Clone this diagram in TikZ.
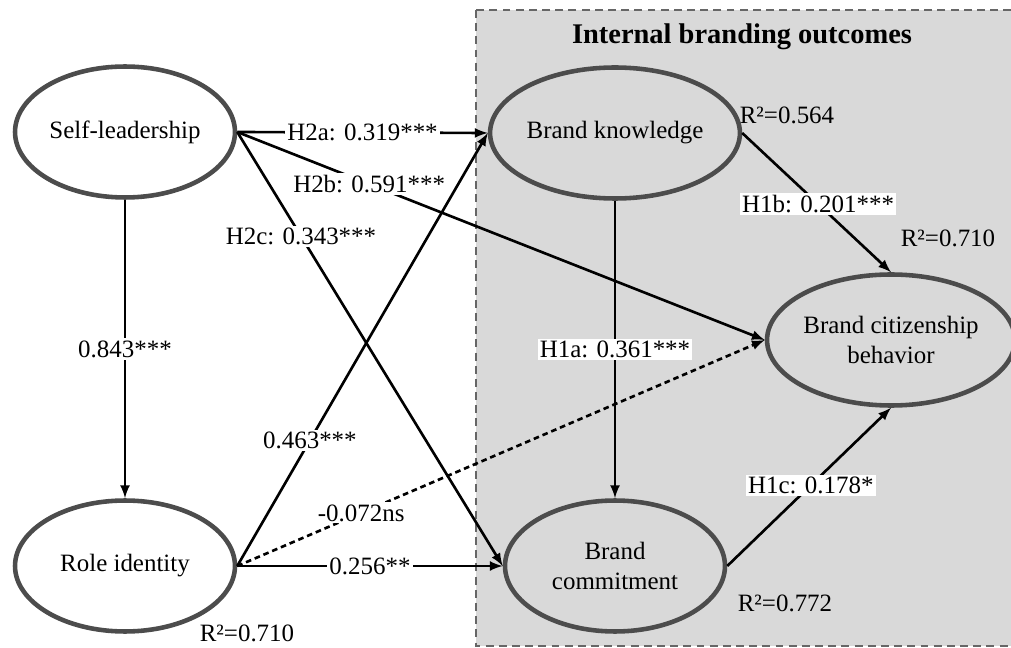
\documentclass[tikz,border=0pt]{standalone}
\usepackage{fontspec}
\setmainfont{Liberation Serif}
\usetikzlibrary{shapes.geometric}
\tikzset{>=latex}
\definecolor{boxgray}{HTML}{D9D9D9}
\tikzset{
    construct/.style={ellipse, draw=black!70, line width=2.6pt, align=center,
        minimum width=4.4cm, minimum height=2.62cm, inner sep=0pt},
    effect/.style={->, line width=1.5pt},
    coef/.style={fill=white, inner sep=1.2pt},
    rsq/.style={inner sep=0pt}
}

\begin{document}
\begin{tikzpicture}[x=0.02cm, y=-0.02cm, font=\fontsize{14.2}{17}\selectfont]
    \useasboundingbox (0,0) rectangle (1011,648);
    % outcome block
    \draw[fill=boxgray, draw=black!60, line width=1.2pt,
        dash pattern=on 4.5pt off 3pt] (476,10) rectangle (1030,646);
    \node[font=\fontsize{16.2}{19}\selectfont\bfseries] (title) at (742,37)
        {Internal branding outcomes};

    \node[construct] (sl)  at (125,132) {Self-leadership};
    \node[construct] (ri)  at (125,566) {Role identity};
    \node[construct] (bk)  at (615,133) {Brand knowledge};
    \node[construct] (bc)  at (615,566) {Brand\\commitment};
    \node[construct, minimum width=4.32cm] (bcb) at (891,340)
        {Brand citizenship\\behavior};

    \node[rsq] (r2bk)  at (787,115) {R²=0.564};
    \node[rsq] (r2bcb) at (948,238) {R²=0.710};
    \node[rsq] (r2bc)  at (785,603) {R²=0.772};
    \node[rsq] (r2ri)  at (247,633) {R²=0.710};

    \draw[effect] (sl.south) -- node[coef] {0.843***} (ri.north);
    \draw[effect] (sl.east) -- node[coef] {H2a: 0.319***} (bk.west);
    \draw[effect] (sl.east) -- node[coef, pos=0.25] {H2b: 0.591***} (bcb.west);
    \draw[effect] (sl.east) -- node[coef, pos=0.24] {H2c: 0.343***} (bc.west);
    \draw[effect] (ri.east) -- node[coef, pos=0.29] {0.463***} (bk.west);
    \draw[effect, dash pattern=on 3.2pt off 2.2pt] (ri.east)
        -- node[coef, pos=0.235] {-0.072ns} (bcb.west);
    \draw[effect] (ri.east) -- node[coef] {0.256**} (bc.west);
    \draw[effect] (bk.south) -- node[coef] {H1a: 0.361***} (bc.north);
    \draw[effect] (bk.east) -- node[coef, pos=0.51] {H1b: 0.201***} (bcb.north);
    \draw[effect] (bc.east) -- node[coef, pos=0.51] {H1c: 0.178*} (bcb.south);
\end{tikzpicture}
\end{document}
